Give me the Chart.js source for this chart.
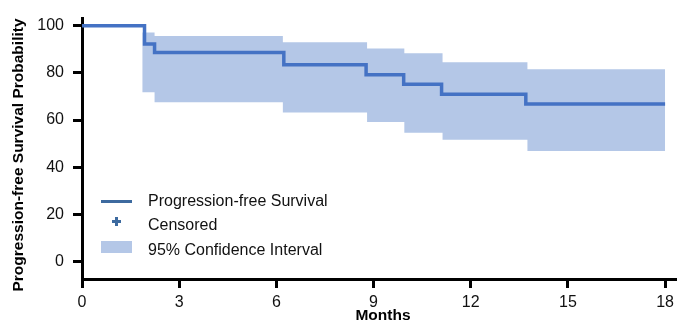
<!DOCTYPE html>
<html>
<head>
<meta charset="utf-8">
<script src="https://cdn.jsdelivr.net/npm/chart.js@4/dist/chart.umd.min.js"></script>
<style>
  html, body { margin: 0; padding: 0; background: #fff; }
  #wrap { width: 679px; height: 324px; }
</style>
</head>
<body>
<div id="wrap"><canvas id="km" width="679" height="324"></canvas></div>
<script>
// ── Data ────────────────────────────────────────────────────────────────────
const survTimes  = [0, 1.93, 2.24, 6.23, 8.77, 9.93, 11.1, 13.7, 18];
const survValues = [100, 92.2, 88.6, 83.4, 79.2, 75.2, 70.9, 66.8, 66.8];

const ciTimes = [1.86, 2.24, 6.2, 8.8, 9.95, 11.13, 13.75, 18];
const ciUpper = [97.1, 95.6, 93.0, 90.3, 88.3, 84.5, 81.5, 81.5];
const ciLower = [71.8, 67.5, 63.2, 59.2, 54.6, 51.6, 46.9, 46.9];

const xTicks = [0, 3, 6, 9, 12, 15, 18];
const yTicks = [0, 20, 40, 60, 80, 100];

const xTitle = 'Months';
const yTitle = 'Progression-free Survival Probability';
const legendLabels = ['Progression-free Survival', 'Censored', '95% Confidence Interval'];

// ── Styles ──────────────────────────────────────────────────────────────────
const FONT = 'Arial, "Liberation Sans", Helvetica, sans-serif';
const LINE_COLOR = '#4472c4';
const LEGEND_LINE = '#3d6a9f';
const BAND_COLOR = '#b4c7e7';

const pts = (xs, ys) => xs.map((x, i) => ({ x, y: ys[i] }));

// ── Titles + legend drawn inside the chart area ─────────────────────────────
const extrasPlugin = {
  id: 'extras',
  afterDraw(chart) {
    const ctx = chart.ctx;
    ctx.save();
    ctx.fillStyle = '#000';
    ctx.textBaseline = 'middle';

    // axis titles
    ctx.font = 'bold 15.5px ' + FONT;
    ctx.textAlign = 'center';
    ctx.fillText(xTitle, 383, 316);
    ctx.translate(19, 155);
    ctx.rotate(-Math.PI / 2);
    ctx.fillText(yTitle, 0, 0);
    ctx.setTransform(1, 0, 0, 1, 0, 0);

    // legend
    ctx.font = '16px ' + FONT;
    ctx.textAlign = 'left';
    ctx.fillStyle = LEGEND_LINE;
    ctx.fillRect(101, 200, 31, 3);
    ctx.fillRect(112, 220, 9, 3);
    ctx.fillRect(115, 217, 3, 9);
    ctx.fillStyle = BAND_COLOR;
    ctx.fillRect(101, 241, 31, 12);

    ctx.fillStyle = '#111';
    ctx.fillText(legendLabels[0], 148, 202);
    ctx.fillText(legendLabels[1], 148, 226);
    ctx.fillText(legendLabels[2], 148, 251);
    ctx.restore();
  }
};

const axisCommon = {
  type: 'linear',
  grid: { drawOnChartArea: false, drawTicks: true, tickLength: 9, lineWidth: 3, color: '#000' },
  border: { display: true, width: 3, color: '#000' },
};

new Chart(document.getElementById('km'), {
  type: 'line',
  data: {
    datasets: [
      {
        label: legendLabels[0],
        data: pts(survTimes, survValues),
        stepped: 'before',
        borderColor: LINE_COLOR,
        borderWidth: 3.5,
        pointRadius: 0,
        fill: false,
        order: 0
      },
      {
        label: 'upper',
        data: pts(ciTimes, ciUpper),
        stepped: 'before',
        borderWidth: 0,
        borderColor: 'rgba(0,0,0,0)',
        pointRadius: 0,
        fill: false,
        order: 2
      },
      {
        label: legendLabels[2],
        data: pts(ciTimes, ciLower),
        stepped: 'before',
        borderWidth: 0,
        borderColor: 'rgba(0,0,0,0)',
        backgroundColor: BAND_COLOR,
        pointRadius: 0,
        fill: '-1',
        order: 1
      }
    ]
  },
  options: {
    responsive: false,
    devicePixelRatio: 1,
    animation: false,
    layout: { padding: { top: 10, right: 0, left: 0, bottom: 0 } },
    plugins: { legend: { display: false }, tooltip: { enabled: false } },
    scales: {
      x: {
        ...axisCommon,
        min: 0,
        max: 18.31,
        afterBuildTicks: s => { s.ticks = xTicks.map(v => ({ value: v })); },
        afterFit: s => { s.height = 45; },
        ticks: { color: '#111', font: { size: 16, family: FONT }, padding: 5, maxRotation: 0, autoSkip: false }
      },
      y: {
        ...axisCommon,
        min: -7.4,
        max: 103,
        afterBuildTicks: s => { s.ticks = yTicks.map(v => ({ value: v })); },
        afterFit: s => { s.width = 82; },
        ticks: { color: '#111', font: { size: 16, family: FONT }, padding: 9, autoSkip: false }
      }
    }
  },
  plugins: [extrasPlugin]
});
</script>
</body>
</html>
